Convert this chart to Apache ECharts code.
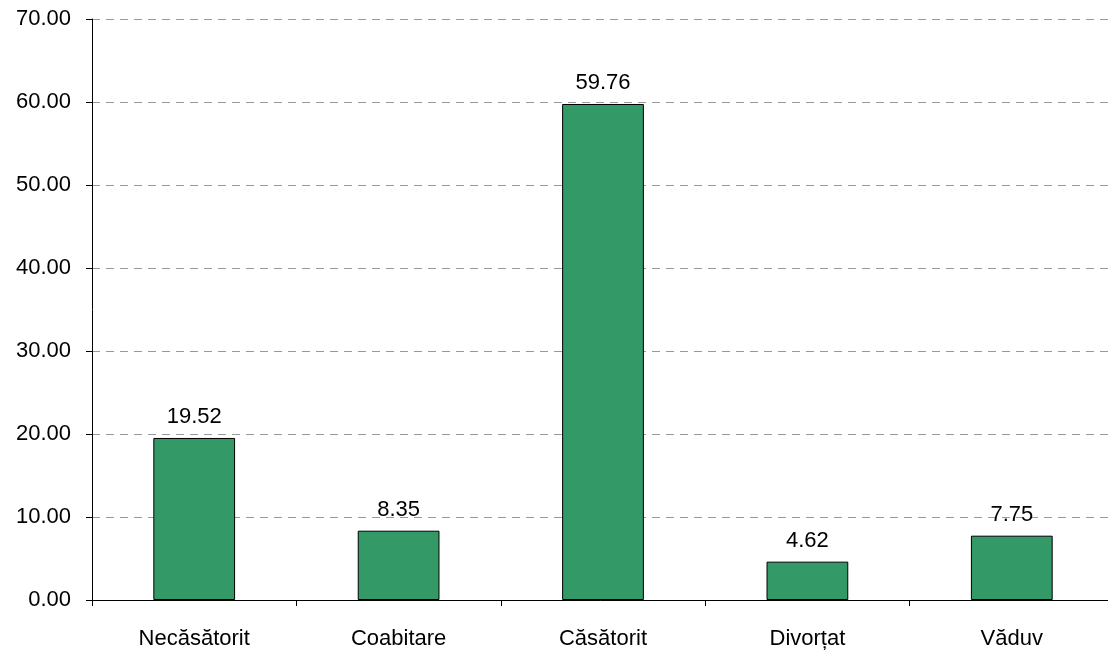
<!DOCTYPE html>
<html><head><meta charset="utf-8">
<script src="https://cdn.jsdelivr.net/npm/echarts@6/dist/echarts.min.js"></script>
<style>html,body{margin:0;padding:0;background:#fff}#c{width:1108px;height:654px}</style>
</head><body><div id="c"></div>
<script>
const categories = ['Necăsătorit', 'Coabitare', 'Căsătorit', 'Divorțat', 'Văduv'];
const values = [19.52, 8.35, 59.76, 4.62, 7.75];
const chart = echarts.init(document.getElementById('c'), null, {renderer: 'canvas'});
const font = 'Liberation Sans, Arial, sans-serif';
chart.setOption({
  animation: false,
  grid: {left: 92, right: -6, top: 19, bottom: 54, outerBoundsMode: 'none'},
  xAxis: {
    type: 'category', data: categories,
    axisLine: {lineStyle: {color: '#000', width: 1}},
    axisTick: {show: true, length: 6, lineStyle: {color: '#000'}},
    axisLabel: {color: '#000', fontSize: 22, fontFamily: font, margin: 28},
    splitLine: {show: false}
  },
  yAxis: {
    type: 'value', min: 0, max: 70, interval: 10,
    axisLine: {show: true, lineStyle: {color: '#000', width: 1}},
    axisTick: {show: true, length: 6, lineStyle: {color: '#000'}},
    axisLabel: {color: '#000', fontSize: 22, fontFamily: font, margin: 21,
      formatter: v => v.toFixed(2)},
    splitLine: {show: true, lineStyle: {color: '#999', type: [8, 6], width: 1}}
  },
  series: [{
    type: 'bar', data: values, barWidth: '40%',
    itemStyle: {color: '#339966', borderColor: '#000', borderWidth: 1},
    label: {show: true, position: 'top', distance: 10, color: '#000', fontSize: 22, fontFamily: font,
      formatter: p => p.value.toFixed(2)}
  }]
});
</script></body></html>
